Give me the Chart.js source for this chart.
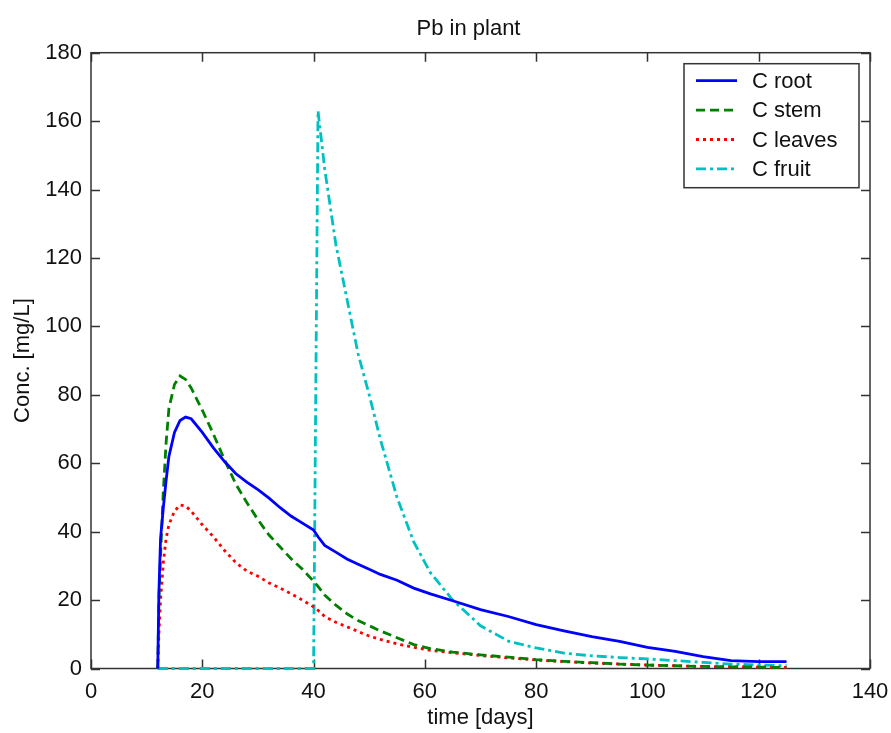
<!DOCTYPE html>
<html>
<head>
<meta charset="utf-8">
<script src="https://cdn.jsdelivr.net/npm/chart.js@4"></script>
<style>body{margin:0;background:#fff}</style>
</head>
<body>
<canvas id="myChart" width="891" height="733"></canvas>
<script>
// time [days]
const times = [12, 12.2, 12.5, 13, 13.5, 14, 15, 16, 17, 18, 20, 22, 24, 26, 28, 30, 32, 34, 36, 38, 40, 40.8, 42, 44, 46, 48, 50, 52, 55, 58, 61, 65, 70, 75, 80, 85, 90, 95, 100, 105, 110, 115, 120, 125];

const cRoot = [0, 22, 38, 47, 55, 62, 69, 72.5, 73.5, 73, 69, 64.5, 60.5, 57, 54.5, 52.3, 49.8, 47, 44.5, 42.5, 40.5, 38.5, 36, 34, 32, 30.5, 29, 27.5, 25.8, 23.5, 21.8, 19.8, 17.2, 15.2, 12.8, 11, 9.3, 7.9, 6.2, 5, 3.5, 2.3, 2, 2];
const cStem = [0, 20, 33, 52, 66, 76, 83, 85.5, 84.5, 82, 75.5, 68.5, 61, 54, 48.5, 43.5, 39, 35.5, 32, 29, 25.5, 24, 21.5, 18.5, 16, 14, 12.5, 11, 9, 7, 5.8, 4.8, 4, 3.3, 2.6, 2.1, 1.7, 1.3, 1, 0.8, 0.6, 0.5, 0.4, 0.3];
const cLeaves = [0, 10, 20, 31, 38, 42, 46, 47.8, 47.5, 46, 42, 38.5, 34.5, 31, 28.5, 27, 25, 23.5, 21.8, 20, 18, 17, 15.2, 13.5, 12.2, 10.8, 9.5, 8.5, 7.2, 6.2, 5.3, 4.6, 3.8, 3.1, 2.5, 2, 1.6, 1.3, 1, 0.8, 0.6, 0.5, 0.4, 0.3];
const cFruit = [0, 0, 0, 0, 0, 0, 0, 0, 0, 0, 0, 0, 0, 0, 0, 0, 0, 0, 0, 0, 0, 163, 146, 124, 108, 92, 80, 67, 50, 37, 28, 20, 12.5, 8, 6, 4.5, 3.7, 3.2, 2.8, 2.3, 1.8, 1.3, 1, 0.8];

const seriesLabels = ['C root', 'C stem', 'C leaves', 'C fruit'];
const xTicks = [0, 20, 40, 60, 80, 100, 120, 140];
const yTicks = [0, 20, 40, 60, 80, 100, 120, 140, 160, 180];

const FONT = '"Liberation Sans", Arial, sans-serif';
const toPts = arr => times.map((t, i) => ({x: t, y: arr[i]}));

// MATLAB style axes: box, inward ticks on all four sides, title, boxed legend
const matlabAxes = {
    id: 'matlabAxes',
    beforeDatasetsDraw(chart) {
        const {ctx, chartArea: a, scales} = chart;
        const len = 9;
        ctx.save();
        ctx.strokeStyle = '#333';
        ctx.lineWidth = 1.5;
        ctx.beginPath();
        xTicks.forEach(v => {
            const px = Math.round(scales.x.getPixelForValue(v)) + 0.5;
            ctx.moveTo(px, a.bottom); ctx.lineTo(px, a.bottom - len);
            ctx.moveTo(px, a.top); ctx.lineTo(px, a.top + len);
        });
        yTicks.forEach(v => {
            const py = Math.round(scales.y.getPixelForValue(v)) + 0.5;
            ctx.moveTo(a.left, py); ctx.lineTo(a.left + len, py);
            ctx.moveTo(a.right, py); ctx.lineTo(a.right - len, py);
        });
        ctx.stroke();
        ctx.strokeRect(a.left, a.top, a.right - a.left, a.bottom - a.top);

        ctx.fillStyle = '#111';
        ctx.font = '22px ' + FONT;
        ctx.textAlign = 'center';
        ctx.textBaseline = 'alphabetic';
        ctx.fillText('Pb in plant', (a.left + a.right) / 2 - 12, 35);
        ctx.restore();
    },
    afterDraw(chart) {
        const {ctx, chartArea: a} = chart;
        const w = 175, h = 124;
        const lx = a.right - 11 - w, ly = a.top + 11;
        ctx.save();
        ctx.font = '22px ' + FONT;
        ctx.fillStyle = '#fff';
        ctx.fillRect(lx, ly, w, h);
        ctx.strokeStyle = '#333';
        ctx.lineWidth = 1.5;
        ctx.strokeRect(lx, ly, w, h);
        chart.data.datasets.forEach((ds, i) => {
            const y = ly + 17 + i * 29.4;
            ctx.strokeStyle = ds.borderColor;
            ctx.lineWidth = ds.borderWidth;
            ctx.setLineDash(ds.borderDash || []);
            ctx.beginPath();
            ctx.moveTo(lx + 12, y); ctx.lineTo(lx + 53, y);
            ctx.stroke();
            ctx.setLineDash([]);
            ctx.fillStyle = '#111';
            ctx.textAlign = 'left';
            ctx.textBaseline = 'middle';
            ctx.fillText(ds.label, lx + 68, y + 1);
        });
        ctx.restore();
    }
};

const data = {
    datasets: [{
        label: seriesLabels[0],
        data: toPts(cRoot),
        borderColor: '#0000ff',
        borderWidth: 2.8,
    }, {
        label: seriesLabels[1],
        data: toPts(cStem),
        borderColor: '#008000',
        borderWidth: 2.8,
        borderDash: [9, 5],
    }, {
        label: seriesLabels[2],
        data: toPts(cLeaves),
        borderColor: '#ff0000',
        borderWidth: 2.8,
        borderDash: [3, 4],
    }, {
        label: seriesLabels[3],
        data: toPts(cFruit),
        borderColor: '#00c0c0',
        borderWidth: 2.8,
        borderDash: [10, 4, 3, 4],
    }]
};

const config = {
    type: 'line',
    data: data,
    options: {
        responsive: false,
        animation: false,
        layout: {padding: {left: 0, right: 21, top: 52.7, bottom: 0}},
        elements: {point: {radius: 0}, line: {tension: 0, fill: false}},
        datasets: {line: {clip: 4}},
        plugins: {legend: {display: false}, title: {display: false}, tooltip: {enabled: false}},
        scales: {
            x: {
                type: 'linear',
                min: 0, max: 140,
                afterBuildTicks: s => { s.ticks = xTicks.map(v => ({value: v})); },
                afterFit: s => { s.height = 64.5; s.paddingLeft = 0; s.paddingRight = 0; },
                grid: {display: false, drawTicks: false},
                border: {display: false},
                ticks: {color: '#111', padding: 10, font: {size: 22, family: FONT}},
                title: {display: true, text: 'time [days]', color: '#111', padding: {top: 0, bottom: 2}, font: {size: 22, family: FONT}}
            },
            y: {
                min: 0, max: 180,
                afterBuildTicks: s => { s.ticks = yTicks.map(v => ({value: v})); },
                afterFit: s => { s.width = 91; s.paddingTop = 0; s.paddingBottom = 0; },
                grid: {display: false, drawTicks: false},
                border: {display: false},
                ticks: {color: '#111', padding: 9, font: {size: 22, family: FONT}},
                title: {display: true, text: 'Conc. [mg/L]', color: '#111', padding: {top: 10, bottom: 0}, font: {size: 22, family: FONT}}
            }
        }
    },
    plugins: [matlabAxes]
};

const myChart = new Chart(document.getElementById('myChart').getContext('2d'), config);
</script>
</body>
</html>
